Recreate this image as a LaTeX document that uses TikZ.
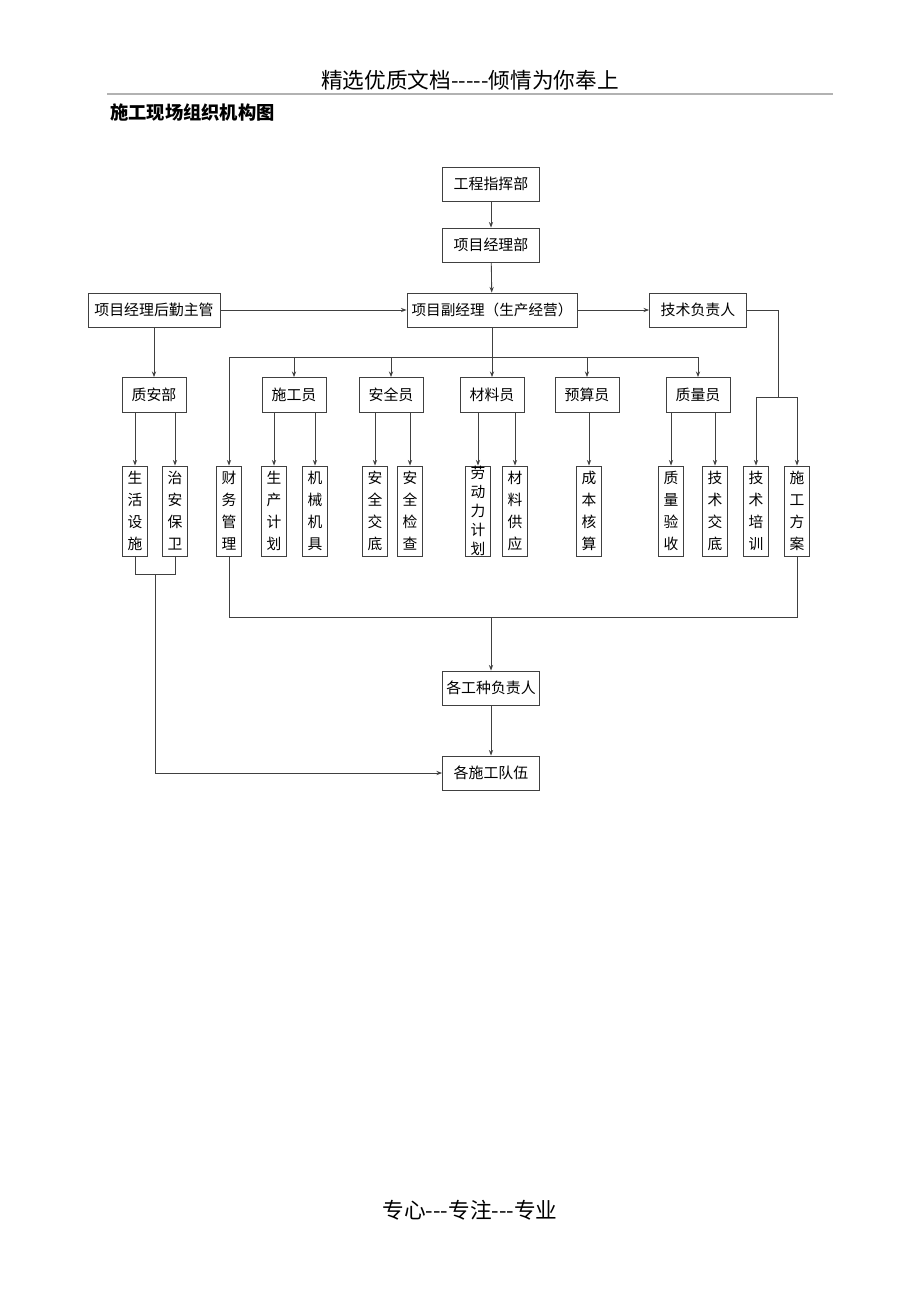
\documentclass[tikz,border=0pt]{standalone}
\usepackage{fontspec}
\setmainfont{Noto Sans CJK SC}[Ligatures=TeXOff]
\usetikzlibrary{arrows.meta}

\begin{document}
\begin{tikzpicture}[x=0.025cm, y=-0.025cm,
	box/.style={draw=black!75, line width=0.6pt, inner sep=0pt, font=\fontsize{10.6}{12}\selectfont},
	wbox/.style={box, minimum width=2.425cm, minimum height=0.85cm},
	mbox/.style={box, minimum width=1.6cm, minimum height=0.875cm},
	vbox/.style={box, minimum width=0.625cm, minimum height=2.25cm, align=center, font=\fontsize{10.5}{15.6}\selectfont},
	line/.style={draw=black!75, line width=0.6pt},
	arr/.style={line, -{Stealth[length=4pt, width=3pt]}}]
	%%%%% START %%%%%
	
	\useasboundingbox (0, 0) rectangle (920, 1302);
	
	\node (kopf) at (470, 80) {\fontsize{15.4}{17}\selectfont 精选优质文档-----倾情为你奉上};
	\draw[gray!60, line width=0.8pt] (107, 94) -- (833, 94);
	\node[anchor=west, inner sep=0pt] (titel) at (110, 113) {\fontsize{13}{15}\selectfont\bfseries 施工现场组织机构图};
	
	\node[wbox] (zhihui) at (491, 184) {工程指挥部};
	\node[wbox] (jinglibu) at (491, 245) {项目经理部};
	\node[box, minimum width=3.3cm, minimum height=0.85cm] (houqin) at (154, 310) {项目经理后勤主管};
	\node[box, minimum width=4.25cm, minimum height=0.85cm, font=\fontsize{10.4}{12}\selectfont] (fujingli) at (492, 310) {项目副经理（生产经营）};
	\node[wbox] (jishufz) at (698, 310) {技术负责人};
	
	\node[mbox] (zhianbu) at (154, 395) {质安部};
	\node[mbox] (shigongyuan) at (294, 395) {施工员};
	\node[mbox] (anquanyuan) at (391, 395) {安全员};
	\node[mbox] (cailiaoyuan) at (492, 395) {材料员};
	\node[mbox] (yusuanyuan) at (587, 395) {预算员};
	\node[mbox] (zhiliangyuan) at (698, 395) {质量员};
	
	\node[vbox] (shenghuo) at (135, 511) {生\\活\\设\\施};
	\node[vbox] (zhian) at (175, 511) {治\\安\\保\\卫};
	\node[vbox] (caiwu) at (229, 511) {财\\务\\管\\理};
	\node[vbox] (jihua) at (274, 511) {生\\产\\计\\划};
	\node[vbox] (jiju) at (315, 511) {机\\械\\机\\具};
	\node[vbox] (jiaodi) at (375, 511) {安\\全\\交\\底};
	\node[vbox] (jiancha) at (410, 511) {安\\全\\检\\查};
	\node[vbox, font=\fontsize{10.5}{13.6}\selectfont] (laodongli) at (478, 511) {劳\\动\\力\\计\\划};
	\node[vbox] (gongying) at (515, 511) {材\\料\\供\\应};
	\node[vbox] (chengben) at (589, 511) {成\\本\\核\\算};
	\node[vbox] (yanshou) at (671, 511) {质\\量\\验\\收};
	\node[vbox] (jsjiaodi) at (715, 511) {技\\术\\交\\底};
	\node[vbox] (peixun) at (756, 511) {技\\术\\培\\训};
	\node[vbox] (fangan) at (797, 511) {施\\工\\方\\案};
	
	\node[wbox] (gongzhong) at (491, 688) {各工种负责人};
	\node[wbox] (duiwu) at (491, 773) {各施工队伍};
	
	% top chain
	\draw[arr] (zhihui) -- (jinglibu);
	\draw[arr] (jinglibu) -- (fujingli);
	\draw[arr] (houqin) -- (fujingli);
	\draw[arr] (fujingli) -- (jishufz);
	\draw[arr] (houqin) -- (zhianbu);
	
	% bus under the deputy manager
	\coordinate (bus) at (492, 357);
	\draw[line] (fujingli.south) -- (bus);
	\foreach \n in {caiwu, shigongyuan, anquanyuan, cailiaoyuan, yusuanyuan, zhiliangyuan}
		\draw[arr] (bus) -| (\n.north);
	
	% second row to third row
	\foreach \p/\c in {zhianbu/shenghuo, zhianbu/zhian, shigongyuan/jihua, shigongyuan/jiju,
		anquanyuan/jiaodi, anquanyuan/jiancha, cailiaoyuan/laodongli, cailiaoyuan/gongying,
		yusuanyuan/chengben, zhiliangyuan/yanshou, zhiliangyuan/jsjiaodi}
		\draw[arr] (\p.south -| \c.north) -- (\c.north);
	
	% technical head
	\coordinate (jsgabel) at (778, 397);
	\draw[line] (jishufz.east) -| (jsgabel);
	\draw[arr] (jsgabel) -| (peixun.north);
	\draw[arr] (jsgabel) -| (fangan.north);
	
	% bottom
	\coordinate (zaknoten) at (155, 574);
	\draw[line] (shenghuo.south) |- (zaknoten);
	\draw[line] (zhian.south) |- (zaknoten);
	\draw[arr] (zaknoten) |- (duiwu.west);
	
	\coordinate (unten) at (491, 617);
	\draw[line] (caiwu.south) |- (unten);
	\draw[line] (fangan.south) |- (unten);
	\draw[arr] (unten) -- (gongzhong.north);
	\draw[arr] (gongzhong) -- (duiwu);
	
	\node (fuss) at (470, 1210) {\fontsize{15.4}{17}\selectfont 专心---专注---专业};
	
	%%%%% END %%%%%
\end{tikzpicture}
\end{document}
